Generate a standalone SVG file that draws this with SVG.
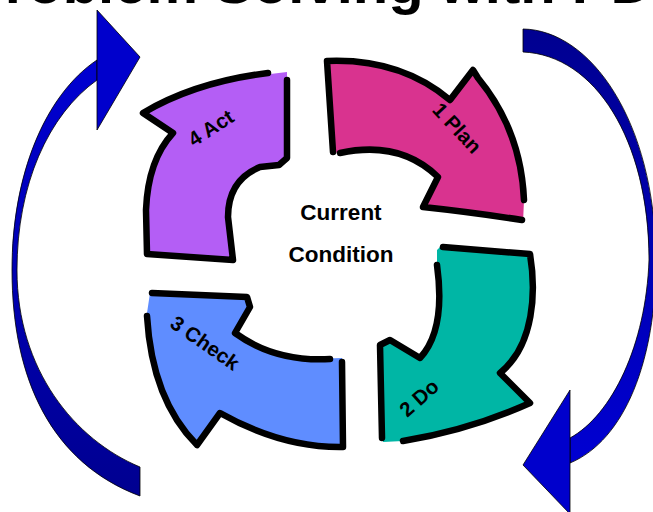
<svg xmlns="http://www.w3.org/2000/svg" width="653" height="512" viewBox="0 0 653 512">
<defs>
<linearGradient id="gL" x1="0" y1="1" x2="0" y2="0">
<stop offset="0" stop-color="#000090"/>
<stop offset="1" stop-color="#0000D2"/>
</linearGradient>
<linearGradient id="gR" x1="0" y1="0" x2="0" y2="1">
<stop offset="0" stop-color="#000090"/>
<stop offset="1" stop-color="#0000D2"/>
</linearGradient>
</defs>
<style>
.ol{fill:none;stroke:#000;stroke-width:6.5;stroke-linecap:round;stroke-linejoin:round}
.t{font-family:"Liberation Sans",Arial,Helvetica,sans-serif;font-weight:bold;fill:#000}
.lbl{font-size:20.5px;text-anchor:middle}
.ctr{font-size:22.5px;text-anchor:middle}
.head{fill:#0000CC;stroke:#000;stroke-width:0.8;stroke-linejoin:miter}
.arc{stroke:#000;stroke-width:0.8}
</style>
<rect width="653" height="512" fill="#fff"/>
<text class="t" x="-34" y="3" font-size="58">Problem Solving with PDCA</text>

<g id="connectors">
<path class="arc" fill="url(#gL)" d="M97,60 C45,95 12,175 12,270 C12,380 52,463 140,496 L140,467 C75,440 17,370 17,270 C17,185 48,115 97,80 Z"/>
<path class="head" d="M97,10 L140,57 L97,130 Z"/>
<path class="arc" fill="url(#gR)" d="M523,29 C590,30 655,120 656,260 C656,360 625,440 570,463 L570,438 C612,415 646,345 649,260 C649,140 595,55 523,52 Z"/>
<path class="head" d="M570,390 L523,465 L570,514 Z"/>
</g>

<g id="plan">
<path fill="#D9338F" d="M327,61 Q400,58 450,100 L473,70 L478,78 Q521,130 524,200 L523,223 Q470,212 423,207 L438,177 Q400,140 340,153 L333,152 Z"/>
<path class="ol" d="M522,220 Q470,212 423,207 L438,177 Q400,140 340,153 M333,152 L327,61 Q400,58 450,100 L473,70 L478,78 Q521,130 524,200"/>
<text class="t lbl" transform="translate(457,128) rotate(47)" y="7">1 Plan</text>
</g>

<g id="do">
<path fill="#00B6A5" d="M440,247 L530,254 C536,290 535,345 500,373 L530,403 Q470,430 403,441 L383,442 L380,345 L390,340 L420,358 Q446,330 437,265 L437,250 Z"/>
<path class="ol" d="M443,247 L530,254 C536,290 535,345 500,373 L530,403 Q470,430 403,441 M382,438 L380,345 L390,340 L420,358 Q446,330 437,265"/>
<text class="t lbl" transform="translate(419,398) rotate(-42)" y="7">2 Do</text>
</g>

<g id="check">
<path fill="#5F8DFF" d="M342,358 L343,447 Q282,448 220,413 L197,445 Q152,400 147,313 L150,293 L247,297 L250,307 L235,333 Q275,362 342,358 Z"/>
<path class="ol" d="M342,362 L343,447 Q282,448 220,413 L197,445 Q152,400 147,316 M152,293 L247,297 L250,307 L235,333 Q275,362 330,359"/>
<text class="t lbl" transform="translate(205,343) rotate(35)" y="7">3 Check</text>
</g>

<g id="act">
<path fill="#B45EF5" d="M143,113 Q195,82 287,72 L287,158 L279,165 L260,167 Q228,180 228,217 L233,260 L147,254 L146,210 Q148,160 173,133 Z"/>
<path class="ol" d="M287,80 L287,158 L279,165 L260,167 Q228,180 228,217 L233,260 L147,254 L146,210 Q148,160 173,133 L143,113 Q195,82 268,73"/>
<text class="t lbl" transform="translate(211,128) rotate(-33)" y="7">4 Act</text>
</g>

<g id="center">
<text class="t ctr" x="341" y="220">Current</text>
<text class="t ctr" x="341" y="262">Condition</text>
</g>
</svg>
